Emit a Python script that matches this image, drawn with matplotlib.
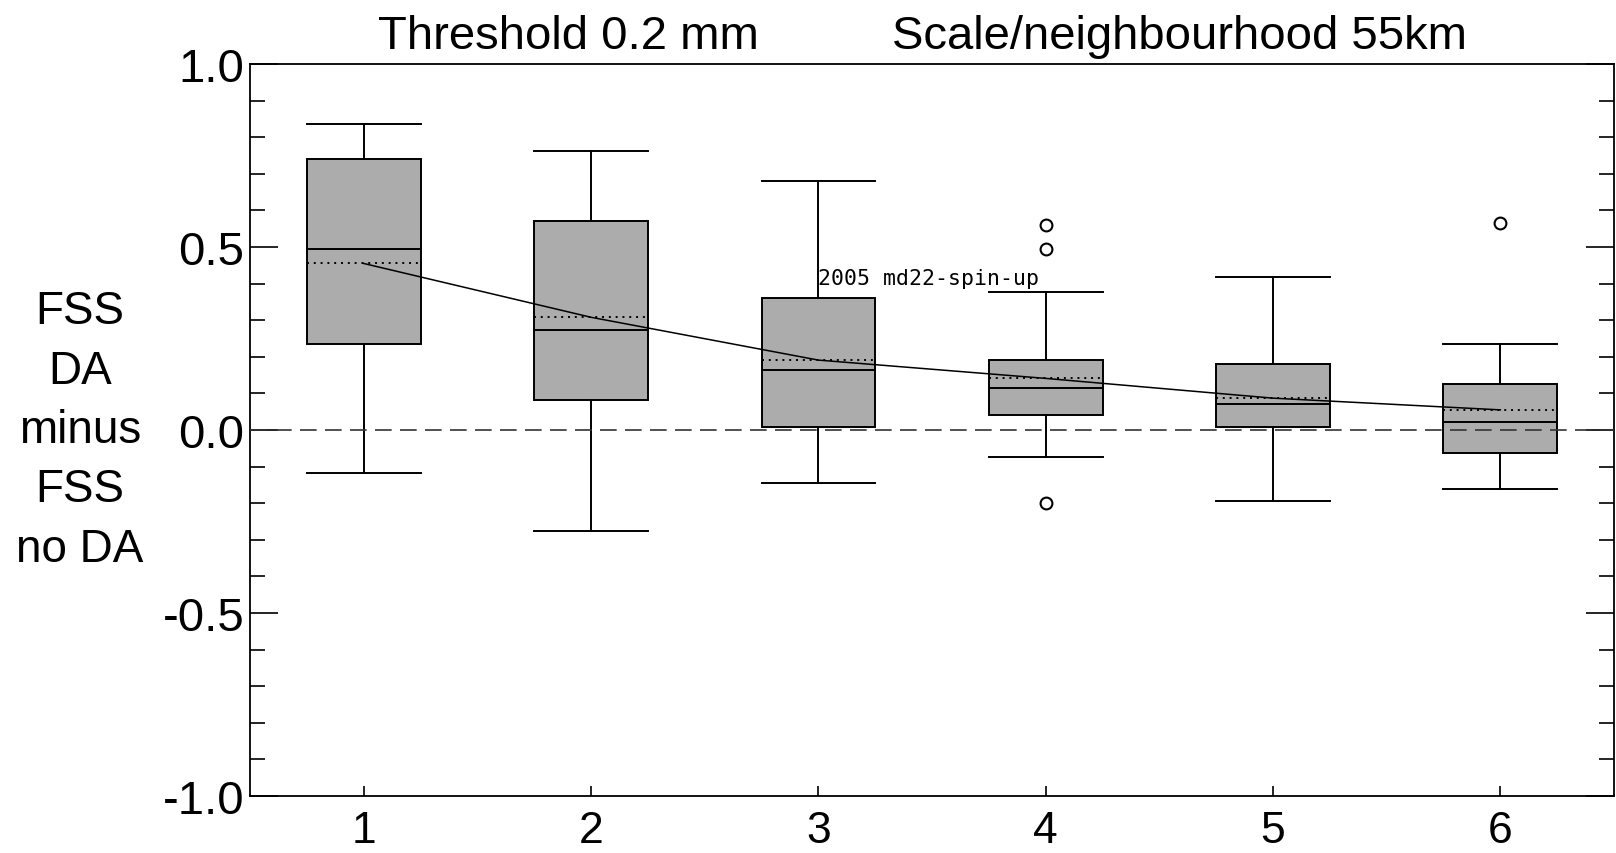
import matplotlib
matplotlib.use('Agg')
from matplotlib import pyplot as plt

# forecast hours / box positions
positions = [1, 2, 3, 4, 5, 6]
xticklabels = ['1', '2', '3', '4', '5', '6']

# box statistics
whislo = [-0.118, -0.276, -0.146, -0.073, -0.195, -0.162]
q1 = [0.236, 0.082, 0.009, 0.042, 0.009, -0.062]
med = [0.494, 0.274, 0.163, 0.115, 0.070, 0.021]
q3 = [0.741, 0.571, 0.362, 0.190, 0.180, 0.125]
whishi = [0.835, 0.763, 0.680, 0.377, 0.417, 0.235]
means = [0.455, 0.308, 0.191, 0.141, 0.087, 0.055]
fliers = [[], [], [], [0.559, 0.494, -0.199], [], [0.566]]

yticks = [-1.0, -0.5, 0.0, 0.5, 1.0]
yticklabels = ['-1.0', '-0.5', '0.0', '0.5', '1.0']

plt.rcParams['font.family'] = ['Liberation Sans', 'DejaVu Sans']

fig = plt.figure(figsize=(16.16, 8.54), dpi=100)
ax = fig.add_axes([250/1616, 1 - 797/854, (1614 - 250)/1616, (797 - 65)/854])

stats = []
for i in range(len(positions)):
    stats.append({'whislo': whislo[i], 'q1': q1[i], 'med': med[i], 'q3': q3[i],
                  'whishi': whishi[i], 'mean': means[i], 'fliers': fliers[i]})

lw = 1.4
ax.bxp(stats, positions=positions, widths=0.5, showmeans=True, meanline=True,
       patch_artist=True, showfliers=True,
       boxprops=dict(facecolor='#acacac', edgecolor='black', linewidth=lw),
       medianprops=dict(color='black', linewidth=lw),
       meanprops=dict(color='black', linestyle=(0, (1, 2.5)), linewidth=lw),
       whiskerprops=dict(color='black', linewidth=lw),
       capprops=dict(color='black', linewidth=lw),
       capwidths=0.5,
       flierprops=dict(marker='o', markersize=8.5, markerfacecolor='white',
                       markeredgecolor='black', markeredgewidth=1.5))

# line joining the means
ax.plot(positions, means, color='black', linewidth=1.1, zorder=4)

# zero reference
ax.axhline(0.0, color='#333333', linewidth=1.2, linestyle=(0, (10, 5)), zorder=5)

ax.text(3.0, 0.398, '2005 md22-spin-up', fontsize=15.5, family='DejaVu Sans Mono',
        ha='left', va='baseline')

ax.set_xlim(0.5, 6.5)
ax.set_ylim(-1.0, 1.0)
ax.set_xticks(positions)
ax.set_xticklabels(xticklabels)
ax.set_yticks(yticks)
ax.set_yticklabels(yticklabels)
ax.set_yticks([v / 10 for v in range(-10, 11)], minor=True)
ax.tick_params(axis='y', which='major', direction='in', length=20, width=1.2,
               left=True, right=True, labelsize=34, pad=4)
ax.tick_params(axis='y', which='minor', direction='in', length=11, width=1.2,
               left=True, right=True)
ax.tick_params(axis='x', which='major', direction='in', length=7, width=1.2,
               labelsize=32, pad=10)
ax.tick_params(axis='x', which='minor', bottom=False, top=False)
for s in ax.spines.values():
    s.set_linewidth(1.3)

fig.text(568/1616, 1 - 49/854, 'Threshold 0.2 mm', fontsize=34,
         ha='center', va='baseline')
fig.text(1180/1616, 1 - 49/854, 'Scale/neighbourhood 55km', fontsize=34,
         ha='center', va='baseline')
fig.text(80/1616, 1 - 431/854, 'FSS\nDA\nminus\nFSS\nno DA', fontsize=33,
         ha='center', va='center', multialignment='center', linespacing=1.45)

plt.savefig('out.png', dpi=100)
